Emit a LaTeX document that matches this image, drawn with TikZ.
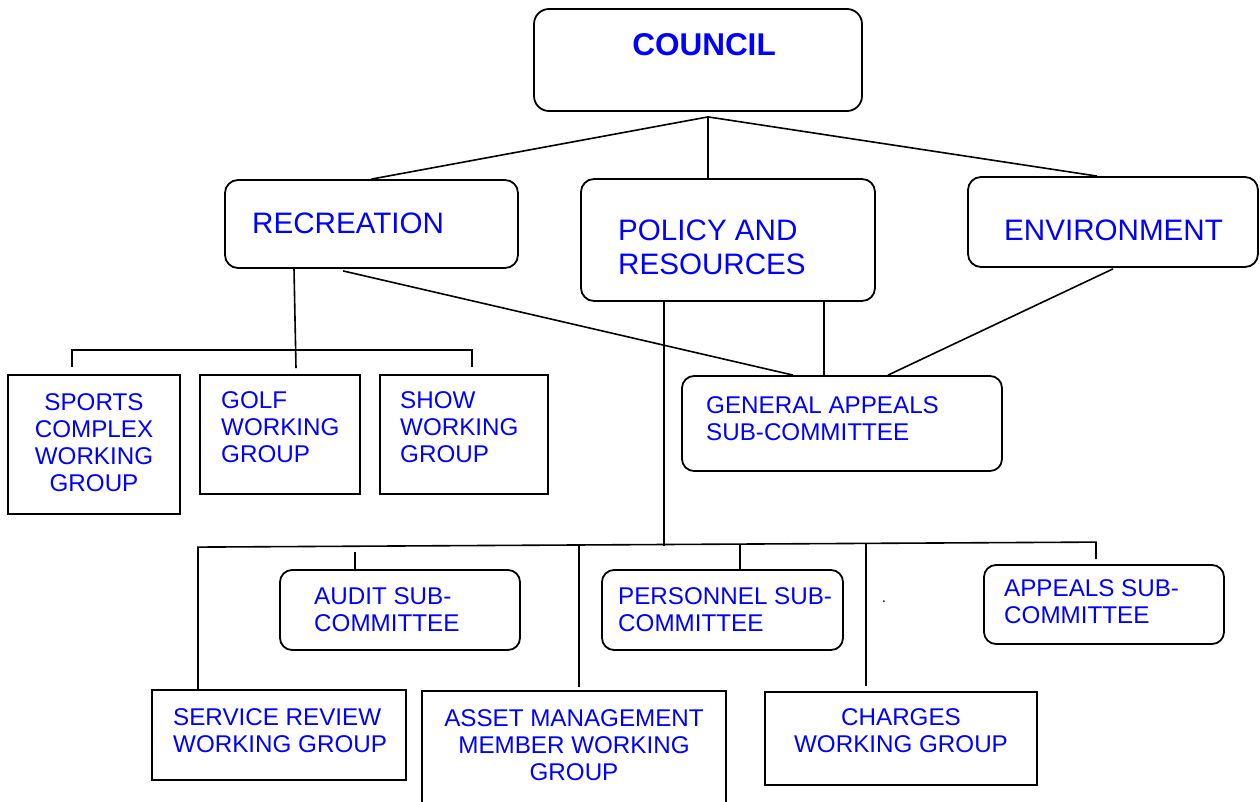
\documentclass[tikz,border=0pt]{standalone}
\usepackage{fontspec}
\setmainfont{Liberation Sans}
\definecolor{txtblue}{RGB}{0,0,255}
\tikzset{
  rbox/.style={draw=black, line width=1.8pt, rounded corners=13pt, inner sep=0pt},
  sbox/.style={draw=black, line width=1.8pt, inner sep=0pt},
  lbl/.style={text=txtblue, inner sep=0pt, align=left, font=\fontsize{24.2}{27}\selectfont},
  clbl/.style={text=txtblue, inner sep=0pt, align=center, font=\fontsize{24.2}{27}\selectfont},
  biglbl/.style={text=txtblue, inner sep=0pt, align=left, font=\fontsize{29.6}{34.5}\selectfont},
  conn/.style={draw=black, line width=1.6pt}
}
\begin{document}
\begin{tikzpicture}[x=1pt,y=-1pt]
\clip (0,0) rectangle (1260,802);
\fill[white] (0,0) rectangle (1260,802);

% boxes
\node[rbox, rounded corners=15pt, minimum width=328pt, minimum height=102pt] (council) at (698,60) {};
\node[rbox, minimum width=293pt, minimum height=88pt] (rec) at (371.5,224) {};
\node[rbox, minimum width=294pt, minimum height=122pt] (pol) at (728,240) {};
\node[rbox, minimum width=290pt, minimum height=90pt] (env) at (1113,222) {};
\node[sbox, minimum width=172pt, minimum height=139pt] (sports) at (94,444.5) {};
\node[sbox, minimum width=160pt, minimum height=119pt] (golf) at (280,434.5) {};
\node[sbox, minimum width=168pt, minimum height=119pt] (show) at (464,434.5) {};
\node[rbox, rounded corners=12pt, minimum width=320pt, minimum height=95pt] (gen) at (842,423.5) {};
\node[rbox, rounded corners=12pt, minimum width=240pt, minimum height=80pt] (audit) at (400,610) {};
\node[rbox, rounded corners=12pt, minimum width=241pt, minimum height=80pt] (pers) at (722.5,610) {};
\node[rbox, rounded corners=12pt, minimum width=240pt, minimum height=79pt] (appeals) at (1104,604.5) {};
\node[sbox, minimum width=254pt, minimum height=90pt] (service) at (279,735) {};
\node[sbox, minimum width=304pt, minimum height=160pt] (asset) at (574,771) {};
\node[sbox, minimum width=272pt, minimum height=93pt] (charges) at (901,738.5) {};

% texts
\node[text=txtblue, inner sep=0pt, font=\fontsize{31.5}{36}\selectfont\bfseries] (tcouncil) at (704,44.5) {COUNCIL};
\node[biglbl, anchor=west] (trec) at (252,223) {RECREATION};
\node[biglbl, anchor=west] (tpol) at (618,247.5) {POLICY AND\\RESOURCES};
\node[biglbl, anchor=west] (tenv) at (1004,230) {ENVIRONMENT};
\node[clbl] (tsports) at (94,442.5) {SPORTS\\COMPLEX\\WORKING\\GROUP};
\node[lbl, anchor=west] (tgolf) at (221,427.5) {GOLF\\WORKING\\GROUP};
\node[lbl, anchor=west] (tshow) at (400,427.5) {SHOW\\WORKING\\GROUP};
\node[lbl, anchor=west] (tgen) at (706,418.5) {GENERAL APPEALS\\SUB-COMMITTEE};
\node[lbl, anchor=west] (taudit) at (314,609.5) {AUDIT SUB-\\COMMITTEE};
\node[lbl, anchor=west] (tpers) at (618,610) {PERSONNEL SUB-\\COMMITTEE};
\node[lbl, anchor=west] (tappeals) at (1004,602) {APPEALS SUB-\\COMMITTEE};
\node[lbl, anchor=west] (tservice) at (173,730.5) {SERVICE REVIEW\\WORKING GROUP};
\node[clbl] (tasset) at (574,745) {ASSET MANAGEMENT\\MEMBER WORKING\\GROUP};
\node[clbl] (tcharges) at (901,731) {CHARGES\\WORKING GROUP};
\node[text=black, inner sep=0pt, font=\fontsize{15}{17}\selectfont] (dot) at (884,602) {.};

% connectors from council
\coordinate (apex) at ([xshift=10pt,yshift=-5pt]council.south);
\draw[conn] (apex) -- (rec.north);
\draw[conn] (apex) -- ([xshift=-20pt]pol.north);
\draw[conn] (apex) -- ([xshift=-16pt]env.north);

% recreation branch
\draw[conn] ([xshift=-77.5pt]rec.south) -- ([xshift=16pt,yshift=6pt]golf.north);
\draw[conn] ([xshift=-22pt,yshift=7pt]sports.north) -- ([xshift=-22pt,yshift=24pt]sports.north)
  -- ([xshift=8pt,yshift=24pt]show.north) -- ([xshift=8pt,yshift=7pt]show.north);

% to general appeals
\draw[conn] ([xshift=-28.5pt,yshift=-2pt]rec.south) -- ([xshift=-49pt]gen.north);
\draw[conn] ([xshift=96pt]pol.south) -- ([xshift=-18pt]gen.north);
\draw[conn] ([yshift=-1pt]env.south) -- ([xshift=46pt]gen.north);

% policy branch
\draw[conn] ([xshift=-64pt]pol.south) -- ([xshift=90pt,yshift=144pt]asset.north);
\draw[conn] ([xshift=-81pt]service.north) -- ([xshift=-81pt,yshift=142pt]service.north)
  -- ([xshift=-8pt,yshift=22pt]appeals.north) -- ([xshift=-8pt,yshift=5pt]appeals.north);
\draw[conn] ([xshift=-45pt,yshift=17pt]audit.north) -- ([xshift=-45pt]audit.north);
\draw[conn] ([xshift=5pt,yshift=145pt]asset.north) -- ([xshift=5pt,yshift=3pt]asset.north);
\draw[conn] ([xshift=17.5pt,yshift=25pt]pers.north) -- ([xshift=17.5pt]pers.north);
\draw[conn] ([xshift=-35pt,yshift=148pt]charges.north) -- ([xshift=-35pt,yshift=5pt]charges.north);
\end{tikzpicture}
\end{document}
